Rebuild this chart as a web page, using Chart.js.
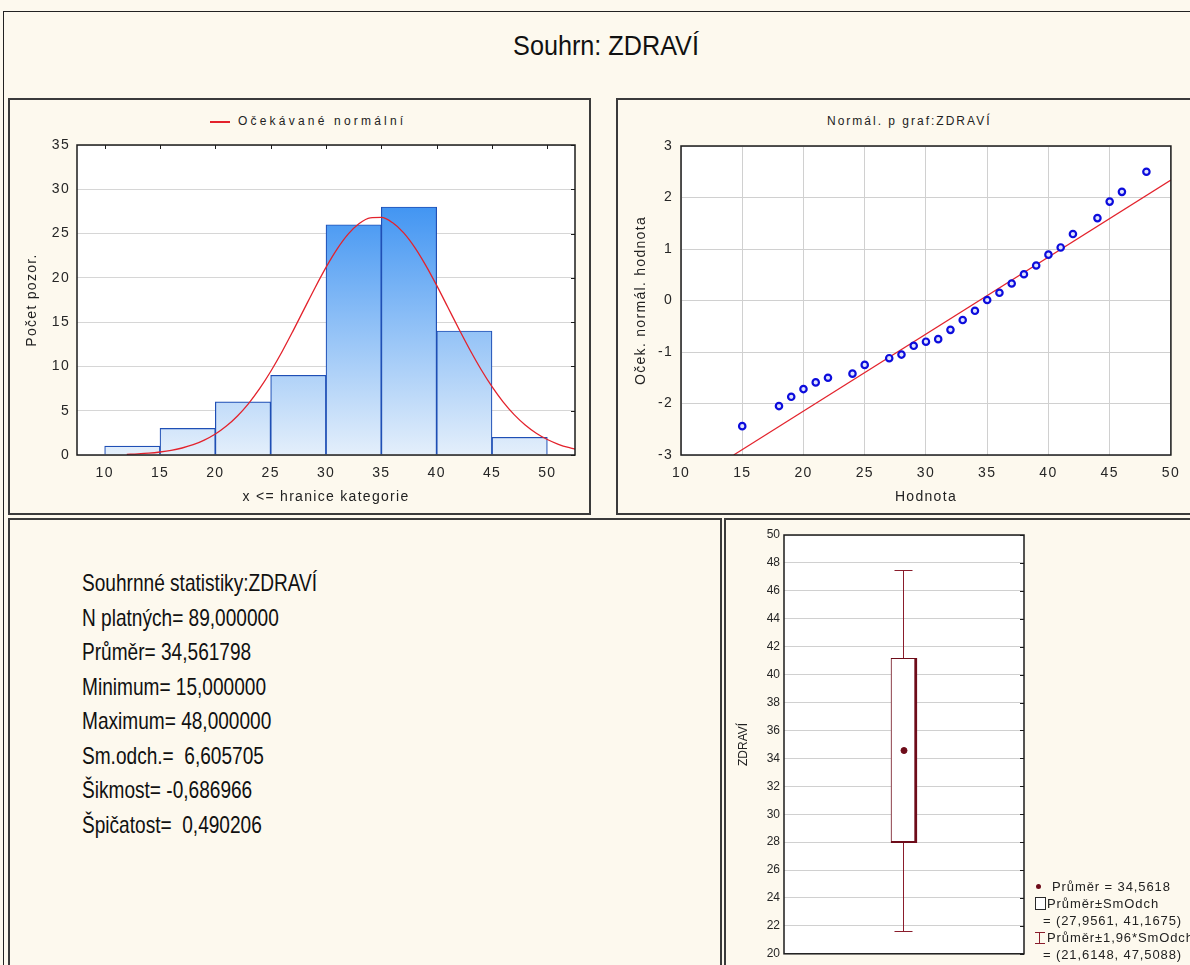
<!DOCTYPE html>
<html lang="cs">
<head>
<meta charset="utf-8">
<title>Souhrn: ZDRAVÍ</title>
<script src="https://cdn.jsdelivr.net/npm/chart.js@4.4.1/dist/chart.umd.min.js"></script>
<style>
  html, body { margin: 0; padding: 0; }
  body { width: 1190px; height: 965px; overflow: hidden; position: relative; background: #fdf9ee;
         font-family: "Liberation Sans", Arial, sans-serif; color: #151515; }
  .frame { position: absolute; box-sizing: border-box; border: 2px solid #3b3b3b; }
  canvas { position: absolute; }
  .t { position: absolute; white-space: pre; }
  .legend-row { position: absolute; left: 0; white-space: pre; }
</style>
</head>
<body>
<!-- panel frames -->
<div class="frame" style="left:3px;top:11px;width:1200px;height:970px;border-width:1px;border-color:#222"></div>
<div class="frame" style="left:8px;top:98px;width:583px;height:417px"></div>
<div class="frame" style="left:616px;top:98px;width:590px;height:417px"></div>
<div class="frame" style="left:8px;top:518px;width:714px;height:460px"></div>
<div class="frame" style="left:724px;top:518px;width:480px;height:460px"></div>

<div id="mainTitle" class="t" style="left:11px;top:32px;width:1190px;text-align:center;font-size:28px;line-height:28px;transform:scaleX(0.9);color:#111"></div>

<!-- histogram legend -->
<div style="position:absolute;left:210px;top:121px;width:20px;height:2px;background:#e3222c"></div>
<div id="histLegend" class="t" style="left:238px;top:115px;font-size:12px;line-height:12px;letter-spacing:3.2px;color:#222"></div>

<!-- probability plot title -->
<div id="probTitle" class="t" style="left:827px;top:115px;font-size:12px;line-height:12px;letter-spacing:2px;color:#222"></div>

<canvas id="hist" width="578" height="413" style="left:10px;top:100px"></canvas>
<canvas id="prob" width="572" height="414" style="left:618px;top:100px"></canvas>
<canvas id="box" width="464" height="445" style="left:726px;top:520px"></canvas>

<!-- summary statistics -->
<div id="stats" class="t" style="left:82px;top:566px;font-size:24px;line-height:34.5px;transform:scaleX(0.795);transform-origin:0 0;color:#111"></div>

<!-- box plot legend -->
<div id="boxLegend" style="position:absolute;left:1035px;top:878px;width:160px;height:90px;font-size:13px;line-height:17px;letter-spacing:0.9px;color:#222"></div>

<script>
// ---- histogram: category bounds and counts ----
const binEdges  = [10, 15, 20, 25, 30, 35, 40, 45, 50];
const binCounts = [1, 3, 6, 9, 26, 28, 14, 2];
const histXTicks = [10, 15, 20, 25, 30, 35, 40, 45, 50];

// expected normal counts per 5-unit category
const curveX = [12, 13, 14, 15, 16, 17, 18, 19, 20, 21, 22, 23, 24, 25, 26, 27, 28, 29, 30, 31, 32,
                33, 34, 35, 36, 37, 38, 39, 40, 41, 42, 43, 44, 45, 46, 47, 48, 49, 50, 51, 52, 52.5];
const curveY = [0.08, 0.13, 0.21, 0.34, 0.52, 0.79, 1.16, 1.68, 2.37, 3.27, 4.41, 5.81, 7.49, 9.43,
                11.6, 13.96, 16.41, 18.86, 21.18, 23.24, 24.93, 26.14, 26.78, 26.82, 26.24, 25.1,
                23.47, 21.44, 19.15, 16.71, 14.25, 11.88, 9.68, 7.71, 6.0, 4.56, 3.39, 2.46, 1.75,
                1.21, 0.82, 0.67];

// ---- normal probability plot ----
const probX = [15, 18, 19, 20, 21, 22, 24, 25, 27, 28, 29, 30, 31, 32, 33, 34, 35, 36, 37, 38,
               39, 40, 41, 42, 44, 45, 46, 48];
const probY = [-2.44, -2.05, -1.87, -1.72, -1.59, -1.50, -1.42, -1.25, -1.12, -1.05, -0.88, -0.80,
               -0.75, -0.57, -0.38, -0.20, 0.01, 0.15, 0.33, 0.51, 0.68, 0.89, 1.03, 1.29, 1.60,
               1.92, 2.11, 2.50];
const fitX = [14.3, 50];
const fitY = [-3.0, 2.34];
const probXTicks = [10, 15, 20, 25, 30, 35, 40, 45, 50];

// ---- box plot: mean, mean ± SD, mean ± 1.96 SD ----
const boxLabels = ['ZDRAVÍ'];
const boxMean = [34.5618];
const boxSd = [27.9561, 41.1675];
const boxCi = [21.6148, 47.5088];

// ---- summary statistics ----
const statLines = [
  'Souhrnné statistiky:ZDRAVÍ',
  'N platných= 89,000000',
  'Průměr= 34,561798',
  'Minimum= 15,000000',
  'Maximum= 48,000000',
  'Sm.odch.=  6,605705',
  'Šikmost= -0,686966',
  'Špičatost=  0,490206'
];

const mainTitle = 'Souhrn: ZDRAVÍ';
const histLegendText = 'Očekávané normální';
const probTitleText = 'Normál. p graf:ZDRAVÍ';

// ---- static texts ----
document.getElementById('mainTitle').textContent = mainTitle;
document.getElementById('histLegend').textContent = histLegendText;
document.getElementById('probTitle').textContent = probTitleText;
document.getElementById('stats').textContent = statLines.join('\n');

const cz = (v, d) => v.toFixed(d).replace('.', ',');
const boxLegend = document.getElementById('boxLegend');
const legendRows = [
  { sym: 'dot', left: 17, text: 'Průměr = ' + cz(boxMean[0], 4) },
  { sym: 'box', left: 12, text: 'Průměr±SmOdch' },
  { sym: null,  left: 8,  text: '= (' + cz(boxSd[0], 4) + ', ' + cz(boxSd[1], 4) + ')' },
  { sym: 'bar', left: 12, text: 'Průměr±1,96*SmOdch' },
  { sym: null,  left: 8,  text: '= (' + cz(boxCi[0], 4) + ', ' + cz(boxCi[1], 4) + ')' }
];
legendRows.forEach((r, i) => {
  const row = document.createElement('div');
  row.className = 'legend-row';
  row.style.top = (i * 17) + 'px';
  row.style.left = r.left + 'px';
  row.textContent = r.text;
  boxLegend.appendChild(row);
  if (r.sym) {
    const s = document.createElement('div');
    s.style.position = 'absolute';
    if (r.sym === 'dot') {
      Object.assign(s.style, { left: '1px', top: (i * 17 + 6) + 'px', width: '5px', height: '5px',
        borderRadius: '50%', background: '#6e0c1a' });
    } else if (r.sym === 'box') {
      Object.assign(s.style, { left: '0px', top: (i * 17 + 2) + 'px', width: '9px', height: '11px',
        border: '1px solid #2a2a2a', background: '#fff' });
    } else {
      Object.assign(s.style, { left: '0px', top: (i * 17 + 3) + 'px', width: '10px', height: '10px',
        borderTop: '1px solid #8a1d2c', borderBottom: '1px solid #8a1d2c',
        background: 'linear-gradient(to right, transparent 4px, #8a1d2c 4px, #8a1d2c 5px, transparent 5px)' });
    }
    boxLegend.appendChild(s);
  }
});

// ---- Chart.js setup ----
Chart.defaults.font.family = '"Liberation Sans", Arial, sans-serif';
Chart.defaults.color = '#2a2a2a';
Chart.defaults.animation = false;

// white plot area, dark frame and short inward ticks on the top/right edges
const plotFrame = {
  id: 'plotFrame',
  beforeLayout(chart, args, o) { chart.ctx.letterSpacing = o.spacing || '0px'; },
  beforeDraw(chart, args, o) {
    const c = chart.ctx, r = chart.chartArea;
    c.letterSpacing = o.spacing || '0px';
    c.save();
    c.fillStyle = '#ffffff';
    c.fillRect(r.left, r.top, r.width, r.height);
    c.restore();
  },
  afterDraw(chart, args, o) {
    const c = chart.ctx, r = chart.chartArea;
    c.save();
    c.strokeStyle = '#1c1c1c';
    c.lineWidth = 1.5;
    c.strokeRect(r.left, r.top, r.width, r.height);
    c.lineWidth = 1;
    c.beginPath();
    if (o.topTicks) {
      const xs = chart.scales.x;
      xs.ticks.forEach(t => {
        const p = Math.round(xs.getPixelForValue(t.value)) + 0.5;
        c.moveTo(p, r.top); c.lineTo(p, r.top + 4);
      });
    }
    if (o.rightTicks) {
      const ys = chart.scales.y;
      ys.ticks.forEach(t => {
        const p = Math.round(ys.getPixelForValue(t.value)) + 0.5;
        c.moveTo(r.right, p); c.lineTo(r.right - 4, p);
      });
    }
    c.stroke();
    c.restore();
  }
};

// whiskers of the box plot (mean ± 1.96 SD), drawn under the box
const whiskers = {
  id: 'whiskers',
  beforeDatasetsDraw(chart) {
    const ys = chart.scales.y;
    const bar = chart.getDatasetMeta(0).data[0];
    if (!bar) return;
    const c = chart.ctx;
    const x = Math.round(bar.x) - 0.5;
    const lo = Math.round(ys.getPixelForValue(boxCi[0])) + 0.5;
    const hi = Math.round(ys.getPixelForValue(boxCi[1])) + 0.5;
    c.save();
    c.strokeStyle = '#8a1d2c';
    c.lineWidth = 1;
    c.beginPath();
    c.moveTo(x, lo); c.lineTo(x, hi);
    c.moveTo(x - 9, lo); c.lineTo(x + 9, lo);
    c.moveTo(x - 9, hi); c.lineTo(x + 9, hi);
    c.stroke();
    c.restore();
  }
};

const tickFont = { size: 14 };
const titleFont = { size: 14 };

// ---- histogram with expected normal curve ----
const histBars = binCounts.map((c, i) => ({ x: (binEdges[i] + binEdges[i + 1]) / 2, y: c }));
const curvePts = curveX.map((x, i) => ({ x, y: curveY[i] }));

new Chart(document.getElementById('hist'), {
  type: 'bar',
  data: {
    datasets: [
      {
        type: 'line',
        label: histLegendText,
        data: curvePts,
        borderColor: '#e3222c',
        borderWidth: 1.3,
        pointRadius: 0,
        cubicInterpolationMode: 'monotone',
        order: 0
      },
      {
        label: 'Počet pozor.',
        data: histBars,
        barPercentage: 1,
        categoryPercentage: 1,
        borderColor: '#1f4fb5',
        borderWidth: 1.2,
        backgroundColor: (ctx) => {
          const a = ctx.chart.chartArea;
          if (!a) return '#6fa8f0';
          const g = ctx.chart.ctx.createLinearGradient(0, a.top, 0, a.bottom);
          g.addColorStop(0, '#1a7ff0');
          g.addColorStop(1, '#e4effb');
          return g;
        },
        order: 1
      }
    ]
  },
  options: {
    responsive: false,
    devicePixelRatio: 1,
    layout: { padding: { top: 45, right: 13, left: 0, bottom: 0 } },
    plugins: {
      legend: { display: false },
      tooltip: { enabled: false },
      plotFrame: { spacing: '1.3px', topTicks: true, rightTicks: true }
    },
    scales: {
      x: {
        type: 'linear',
        min: 7.5,
        max: 52.5,
        offset: false,
        afterBuildTicks: s => { s.ticks = histXTicks.map(v => ({ value: v })); },
        afterFit: s => { s.height = 58; },
        grid: { display: false, drawTicks: false },
        border: { display: false },
        ticks: { padding: 10, font: tickFont, color: '#262626' },
        title: { display: true, text: 'x <= hranice kategorie', font: titleFont, color: '#222',
                 padding: { top: 0, bottom: 7 } }
      },
      y: {
        min: 0,
        max: 35,
        afterFit: s => { s.width = 67; },
        grid: { color: '#d6d6d6', drawTicks: false },
        border: { display: false },
        ticks: { stepSize: 5, padding: 7, font: tickFont, color: '#262626' },
        title: { display: true, text: 'Počet pozor.', font: titleFont, color: '#222',
                 padding: { top: 14, bottom: 0 } }
      }
    }
  },
  plugins: [plotFrame]
});

// ---- normal probability plot ----
new Chart(document.getElementById('prob'), {
  type: 'scatter',
  data: {
    datasets: [
      {
        type: 'line',
        data: fitX.map((x, i) => ({ x, y: fitY[i] })),
        borderColor: '#e3222c',
        borderWidth: 1.2,
        pointRadius: 0,
        order: 1
      },
      {
        data: probX.map((x, i) => ({ x, y: probY[i] })),
        pointRadius: 3.2,
        pointBorderWidth: 2.2,
        pointBorderColor: '#0c0cdc',
        pointBackgroundColor: '#dfe3ff',
        order: 0
      }
    ]
  },
  options: {
    responsive: false,
    devicePixelRatio: 1,
    layout: { padding: { top: 46, right: 8, left: 0, bottom: 0 } },
    plugins: {
      legend: { display: false },
      tooltip: { enabled: false },
      plotFrame: { spacing: '1.3px' }
    },
    scales: {
      x: {
        type: 'linear',
        min: 10,
        max: 50,
        afterBuildTicks: s => { s.ticks = probXTicks.map(v => ({ value: v })); },
        afterFit: s => { s.height = 59; },
        grid: { color: '#d0d0d0', drawTicks: false },
        border: { display: false },
        ticks: { padding: 10, font: tickFont, color: '#262626' },
        title: { display: true, text: 'Hodnota', font: titleFont, color: '#222',
                 padding: { top: 0, bottom: 8 } }
      },
      y: {
        min: -3,
        max: 3,
        afterFit: s => { s.width = 63; },
        grid: { color: '#d0d0d0', drawTicks: false },
        border: { display: false },
        ticks: { stepSize: 1, padding: 8, font: tickFont, color: '#262626' },
        title: { display: true, text: 'Oček. normál. hodnota', font: titleFont, color: '#222',
                 padding: { top: 15, bottom: 0 } }
      }
    }
  },
  plugins: [plotFrame]
});

// ---- box plot ----
new Chart(document.getElementById('box'), {
  type: 'bar',
  data: {
    labels: boxLabels,
    datasets: [
      {
        label: 'Průměr±SmOdch',
        data: [boxSd],
        backgroundColor: '#ffffff',
        borderColor: '#6e0c1a',
        borderWidth: { top: 1, left: 1, right: 3, bottom: 2 },
        borderSkipped: false,
        barThickness: 26,
        order: 1
      },
      {
        type: 'line',
        label: 'Průměr',
        data: boxMean,
        showLine: false,
        pointRadius: 3,
        pointBackgroundColor: '#6e0c1a',
        pointBorderColor: '#6e0c1a',
        order: 0
      }
    ]
  },
  options: {
    responsive: false,
    devicePixelRatio: 1,
    layout: { padding: { top: 15, right: 166, left: 0, bottom: 10 } },
    plugins: {
      legend: { display: false },
      tooltip: { enabled: false },
      plotFrame: { rightTicks: true }
    },
    scales: {
      x: { display: false, offset: true },
      y: {
        min: 20,
        max: 50,
        afterFit: s => { s.width = 58; },
        grid: { color: '#d0d0d0', drawTicks: false },
        border: { display: false },
        ticks: { stepSize: 2, padding: 4, font: { size: 12 }, color: '#262626' },
        title: { display: true, text: 'ZDRAVÍ', font: { size: 12 }, color: '#222',
                 padding: { top: 10, bottom: 0 } }
      }
    }
  },
  plugins: [whiskers, plotFrame]
});
</script>
</body>
</html>
